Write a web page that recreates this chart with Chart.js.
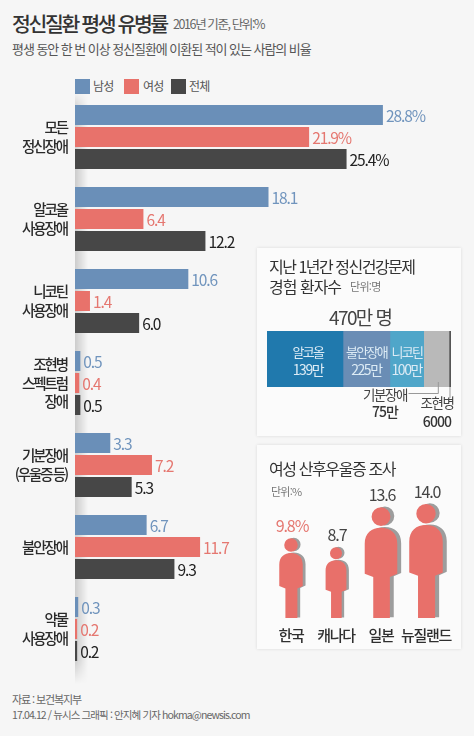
<!DOCTYPE html>
<html lang="ko">
<head>
<meta charset="utf-8">
<script src="https://cdn.jsdelivr.net/npm/chart.js@4"></script>
<style>
html,body{margin:0;padding:0}
body{width:474px;height:736px;position:relative;background:#f6f6f6;overflow:hidden;font-family:"Noto Sans CJK KR","Noto Sans",sans-serif;color:#333}
.t{position:absolute;white-space:nowrap;line-height:1}
.sw{position:absolute;width:15px;height:15px;top:79px}
canvas{position:absolute}
.box{position:absolute;left:257px;width:204px;background:#fbfbfb;box-shadow:0 0 3px rgba(0,0,0,.12)}
#axisShade{position:absolute;left:75px;top:92px;width:13px;height:592px;background:linear-gradient(to right,rgba(0,0,0,.17),rgba(0,0,0,0));-webkit-mask-image:linear-gradient(to bottom,transparent,#000 3%,#000 96%,transparent)}
</style>
</head>
<body>
<div class="t" style="left:12px;top:13px;font-size:20.5px;font-weight:500;letter-spacing:-2.4px;color:#333">정신질환 평생 유병률</div>
<div class="t" style="left:173px;top:18px;font-size:12.5px;letter-spacing:-1.4px;color:#666">2016년 기준, 단위:%</div>
<div class="t" style="left:12px;top:42px;font-size:13px;letter-spacing:-1.05px;color:#555">평생 동안 한 번 이상 정신질환에 이환된 적이 있는 사람의 비율</div>

<div class="sw" style="left:75px;background:#6a8fb8"></div><div class="t" style="left:93px;top:80px;font-size:12px;letter-spacing:-.8px;color:#555">남성</div>
<div class="sw" style="left:124px;background:#e8726b"></div><div class="t" style="left:143px;top:80px;font-size:12px;letter-spacing:-.8px;color:#555">여성</div>
<div class="sw" style="left:171px;background:#474747"></div><div class="t" style="left:189px;top:80px;font-size:12px;letter-spacing:-.8px;color:#555">전체</div>

<div id="axisShade"></div>
<canvas id="main" style="left:0;top:96px;width:474px;height:574px"></canvas>

<div class="box" style="top:248px;height:188px"></div>
<div class="t" style="left:269px;top:258px;font-size:16px;letter-spacing:-1.5px;color:#333">지난 1년간 정신건강문제</div>
<div class="t" style="left:269px;top:278px;font-size:16px;letter-spacing:-1px;color:#333">경험 환자수</div>
<div class="t" style="left:350px;top:281px;font-size:11px;letter-spacing:-.7px;color:#777">단위:명</div>
<div class="t" style="left:329px;top:307px;font-size:19px;letter-spacing:-1.6px;color:#444">470만 명</div>
<canvas id="flow" style="left:257px;top:325px;width:204px;height:110px"></canvas>

<div class="box" style="top:445px;height:204px"></div>
<div class="t" style="left:269px;top:460px;font-size:16px;letter-spacing:-1.4px;color:#333">여성 산후우울증 조사</div>
<div class="t" style="left:271px;top:486px;font-size:11px;letter-spacing:-.8px;color:#777">단위:%</div>
<canvas id="pp" style="left:257px;top:485px;width:204px;height:163px"></canvas>

<div class="t" style="left:12px;top:694px;font-size:11px;letter-spacing:-1.1px;color:#666">자료 : 보건복지부</div>
<div class="t" style="left:12px;top:710px;font-size:10.5px;letter-spacing:-.88px;color:#666">17.04.12 / 뉴시스 그래픽 : 안지혜 기자 hokma@newsis.com</div>

<script>
const categories=[["모든","정신장애"],["알코올","사용장애"],["니코틴","사용장애"],["조현병","스펙트럼","장애"],["기분장애","(우울증 등)"],["불안장애"],["약물","사용장애"]];
const male=[28.8,18.1,10.6,0.5,3.3,6.7,0.3];
const female=[21.9,6.4,1.4,0.4,7.2,11.7,0.2];
const overall=[25.4,12.2,6.0,0.5,5.3,9.3,0.2];
const maleText=["28.8%","18.1","10.6","0.5","3.3","6.7","0.3"];
const femaleText=["21.9%","6.4","1.4","0.4","7.2","11.7","0.2"];
const overallText=["25.4%","12.2","6.0","0.5","5.3","9.3","0.2"];

const flowNames=["알코올","불안장애","니코틴","기분장애","조현병"];
const flowWidths=[225,139,100,75,6];
const flowText=["139만","225만","100만","75만","6000"];
const flowColors=["#2079ad","#6a8db5","#4fa6c9","#b9b9b9","#555555"];

const countries=["한국","캐나다","일본","뉴질랜드"];
const depression=[9.8,8.7,13.6,14.0];
const depressionText=["9.8%","8.7","13.6","14.0"];

const FONT='"Noto Sans CJK KR","Noto Sans",sans-serif';
Chart.defaults.font.family=FONT;
Chart.defaults.animation=false;
Chart.defaults.responsive=false;
Chart.defaults.plugins.legend.display=false;
Chart.defaults.plugins.tooltip.enabled=false;

const spacing=px=>({id:'sp',beforeDraw(c){c.ctx.letterSpacing=px}});

const barLabels={id:'barLabels',afterDatasetsDraw(c){
  const ctx=c.ctx;ctx.save();
  ctx.letterSpacing='-1.1px';
  ctx.font='15.5px '+FONT;ctx.textBaseline='middle';ctx.textAlign='left';
  c.data.datasets.forEach((d,i)=>{
    c.getDatasetMeta(i).data.forEach((el,j)=>{
      ctx.fillStyle=d.labelColor;
      ctx.fillText(d.texts[j],el.x+3,el.y+1);
    });
  });
  ctx.restore();
}};

function size(id,w,h){const e=document.getElementById(id);e.width=w;e.height=h;return e;}

new Chart(size('main',474,574),{
  type:'bar',
  data:{labels:categories,datasets:[
    {label:'남성',data:male,backgroundColor:'#6a8fb8',texts:maleText,labelColor:'#7094bd'},
    {label:'여성',data:female,backgroundColor:'#e8726b',texts:femaleText,labelColor:'#e57770'},
    {label:'전체',data:overall,backgroundColor:'#474747',texts:overallText,labelColor:'#222222'}
  ]},
  options:{
    indexAxis:'y',
    layout:{padding:0},
    datasets:{bar:{categoryPercentage:0.805,barPercentage:0.91}},
    scales:{
      x:{display:false,min:0,max:37.32},
      y:{
        afterFit(s){s.width=75;s.paddingTop=0;s.paddingBottom=0},
        border:{display:false},grid:{display:false,drawTicks:false},
        ticks:{color:'#2a2a2a',padding:8,font:{size:14.5,weight:500,lineHeight:1.25}}
      }
    }
  },
  plugins:[spacing('-2.1px'),barLabels]
});

const flowLabels={id:'flowLabels',afterDatasetsDraw(c){
  const ctx=c.ctx;ctx.save();
  ctx.textAlign='center';ctx.textBaseline='middle';
  c.data.datasets.forEach((d,i)=>{
    const el=c.getDatasetMeta(i).data[0];
    if(i<3){
      const mid=(el.x+el.base)/2+(i===0?3:0);
      ctx.fillStyle='#dcebf5';
      ctx.font='13px '+FONT;ctx.letterSpacing='-1.7px';
      ctx.fillText(flowNames[i],mid,27);
      ctx.font='14px '+FONT;ctx.letterSpacing='-1.4px';
      ctx.fillText(flowText[i],mid,45);
    }
  });
  const e3=c.getDatasetMeta(3).data[0],e4=c.getDatasetMeta(4).data[0];
  const m3=(e3.x+e3.base)/2+2,m4=(e4.x+e4.base)/2;
  ctx.strokeStyle='#999';ctx.lineWidth=1;
  ctx.beginPath();
  ctx.moveTo(151.5,68.5);ctx.lineTo(m3,68.5);ctx.lineTo(m3,57);
  ctx.moveTo(m4,62);ctx.lineTo(m4,73);
  ctx.stroke();
  ctx.fillStyle='#444';ctx.font='13.5px '+FONT;ctx.letterSpacing='-1.4px';
  ctx.fillText(flowNames[3],128,70);
  ctx.fillText(flowNames[4],180,78);
  ctx.fillStyle='#333';ctx.font='500 14px '+FONT;ctx.letterSpacing='-.9px';
  ctx.fillText(flowText[3],128,87);
  ctx.fillText(flowText[4],180,97);
  ctx.restore();
}};

new Chart(size('flow',204,110),{
  type:'bar',
  data:{labels:['환자수'],datasets:flowNames.map((n,i)=>({label:n,data:[flowWidths[i]],backgroundColor:flowColors[i]}))},
  options:{
    indexAxis:'y',
    layout:{padding:{left:10,right:10,top:6,bottom:48}},
    datasets:{bar:{categoryPercentage:1,barPercentage:1}},
    scales:{
      x:{display:false,stacked:true,min:0,max:545},
      y:{display:false,stacked:true}
    }
  },
  plugins:[flowLabels]
});

function personPath(ctx,cx,top,h){
  const X=u=>cx+u*h,Y=v=>top+v*h;
  ctx.beginPath();
  ctx.arc(X(0),Y(.085),.085*h,0,Math.PI*2);
  ctx.closePath();
  ctx.moveTo(X(-.147),Y(.60));
  ctx.lineTo(X(-.147),Y(.33));
  ctx.bezierCurveTo(X(-.147),Y(.235),X(-.085),Y(.185),X(0),Y(.185));
  ctx.bezierCurveTo(X(.085),Y(.185),X(.147),Y(.235),X(.147),Y(.33));
  ctx.lineTo(X(.147),Y(.60));
  ctx.lineTo(X(.08),Y(.63));
  ctx.lineTo(X(.08),Y(1));
  ctx.lineTo(X(-.07),Y(1));
  ctx.lineTo(X(-.07),Y(.63));
  ctx.closePath();
}
const people={id:'people',afterDatasetsDraw(c){
  const ctx=c.ctx;ctx.save();
  const meta=c.getDatasetMeta(0);
  meta.data.forEach((el,i)=>{
    const h=el.base-el.y;
    personPath(ctx,el.x+h*.035,el.y-h*.006,h);ctx.fillStyle='#9d9d9d';ctx.fill();
    personPath(ctx,el.x,el.y,h);ctx.fillStyle='#e8706a';ctx.fill();
    ctx.letterSpacing='-1.1px';
    ctx.font='16px '+FONT;ctx.textAlign='center';ctx.textBaseline='middle';
    ctx.fillStyle=i===0?'#e57770':'#444';
    ctx.fillText(depressionText[i],el.x+1,el.y-12);
  });
  ctx.restore();
}};
new Chart(size('pp',204,163),{
  type:'bar',
  data:{labels:countries,datasets:[{label:'산후우울증',data:depression,backgroundColor:'rgba(0,0,0,0)'}]},
  options:{
    layout:{padding:{left:11.5,right:12.5,top:19,bottom:0}},
    scales:{
      y:{display:false,min:0,max:14},
      x:{
        afterFit(s){s.height=30;s.paddingLeft=0;s.paddingRight=0},
        border:{display:false},grid:{display:false,drawTicks:false},
        ticks:{color:'#2f2f2f',padding:8,autoSkip:false,maxRotation:0,font:{size:15,weight:500}}
      }
    }
  },
  plugins:[spacing('-1.3px'),people]
});
</script>
</body>
</html>
